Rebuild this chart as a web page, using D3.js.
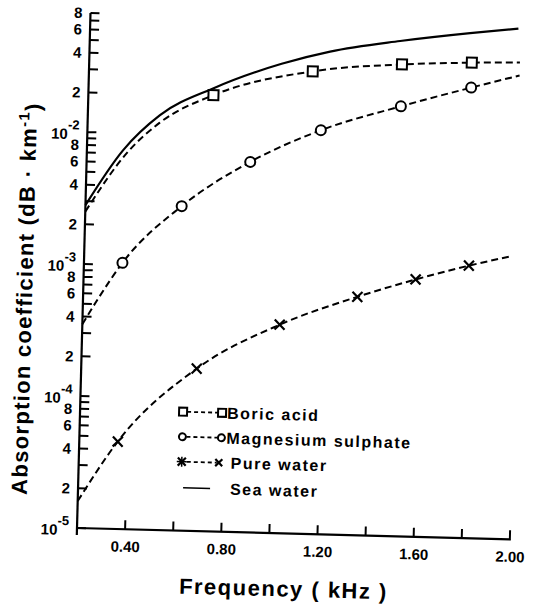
<!DOCTYPE html>
<html><head><meta charset="utf-8">
<script src="https://cdn.jsdelivr.net/npm/d3@7"></script>
<style>
body{margin:0;background:#fff}
text{font-family:"Liberation Sans",Arial,sans-serif;font-weight:bold;fill:#000}
</style>
</head><body>
<svg id="c" width="534" height="609"></svg>
<script>
// ---- data ----
const xMajorTicks = [0.4, 0.8, 1.2, 1.6, 2.0];
const xMajorLabels = ["0.40", "0.80", "1.20", "1.60", "2.00"];
const xMinorTicks = [0.6, 1.0, 1.4, 1.8];
const yDecades = [1e-5, 1e-4, 1e-3, 1e-2];
const yDecadeExps = ["-5", "-4", "-3", "-2"];
const yLabelledMantissas = [2, 4, 6, 8];
const yTopTick = 8e-2;

const seaFreq = [0.20, 0.35, 0.50, 0.72, 1.00, 1.20, 1.49, 1.78, 1.98];
const seaVal  = [2.8e-3, 7.4e-3, 1.39e-2, 2.28e-2, 3.6e-2, 4.55e-2, 5.65e-2, 6.7e-2, 7.4e-2];

const boricFreq = [0.20, 0.37, 0.50, 0.72, 1.13, 1.50, 1.79, 1.99];
const boricVal  = [2.5e-3, 7.2e-3, 1.22e-2, 2.02e-2, 3.2e-2, 3.76e-2, 4.0e-2, 4.1e-2];
const boricMarkFreq = [0.72, 1.13, 1.50, 1.79];
const boricMarkVal  = [2.02e-2, 3.2e-2, 3.76e-2, 4.0e-2];

const mgFreq = [0.20, 0.26, 0.36, 0.60, 0.88, 1.17, 1.50, 1.79, 1.99];
const mgVal  = [3.5e-4, 5.4e-4, 1.04e-3, 2.87e-3, 6.4e-3, 1.15e-2, 1.81e-2, 2.59e-2, 3.27e-2];
const mgMarkFreq = [0.36, 0.60, 0.88, 1.17, 1.50, 1.79];
const mgMarkVal  = [1.04e-3, 2.87e-3, 6.4e-3, 1.15e-2, 1.81e-2, 2.59e-2];

const pureFreq = [0.20, 0.36, 0.68, 1.02, 1.34, 1.58, 1.80, 1.98];
const pureVal  = [1.6e-5, 4.6e-5, 1.7e-4, 3.8e-4, 6.4e-4, 8.9e-4, 1.16e-3, 1.4e-3];
const pureMarkFreq = [0.36, 0.68, 1.02, 1.34, 1.58, 1.80];
const pureMarkVal  = [4.6e-5, 1.7e-4, 3.8e-4, 6.4e-4, 8.9e-4, 1.16e-3];

const legendLabels = ["Boric acid", "Magnesium sulphate", "Pure water", "Sea water"];

// ---- chart ----
const x = d3.scaleLinear().domain([0.2, 2.0]).range([77, 510]);
const y = d3.scaleLog().domain([1e-5, 1e-1]).range([528, 0]);

const svg = d3.select("#c");
const g = svg.append("g").attr("transform", "rotate(1.5,77,528)");

// y ticks
const yTicks = [];
yDecades.forEach(d => { for (let m = 1; m <= 9; m++) { const v = m * d; if (v <= yTopTick * 1.0001) yTicks.push(v); } });
const expOf = v => Math.floor(Math.log10(v) + 1e-9);
const mantOf = v => Math.round(v / Math.pow(10, expOf(v)));

const yAxis = d3.axisLeft(y).tickValues(yTicks).tickSize(0).tickPadding(8)
  .tickFormat(v => { const m = mantOf(v); return yLabelledMantissas.includes(m) ? String(m) : ""; });
const ya = g.append("g").attr("transform", "translate(77,0)").call(yAxis);
ya.select(".domain").remove();
ya.selectAll(".tick text").style("font-size", "15px").attr("fill", "#000");
ya.selectAll(".tick").each(function(v) {
  const i = yDecades.findIndex(d => Math.abs(d - v) / d < 1e-6);
  if (i < 0) return;
  const t = d3.select(this).select("text").text("").attr("dy", "0.45em");
  t.append("tspan").text("10").style("font-size", "15px");
  t.append("tspan").text(yDecadeExps[i]).attr("dy", "-0.75em").style("font-size", "13px");
});
const yTickPath = yTicks.map(d => `M77,${y(d)}H86`).join("");
g.append("path").attr("d", yTickPath).attr("stroke", "#000").attr("stroke-width", 2).attr("fill", "none");
g.append("line").attr("x1", 77).attr("x2", 77).attr("y1", y(1e-5) + 7).attr("y2", y(yTopTick))
  .attr("stroke", "#000").attr("stroke-width", 2.2);

// x ticks
const xAll = xMajorTicks.concat(xMinorTicks);
const xAxis = d3.axisBottom(x).tickValues(xAll).tickSize(0).tickPadding(12)
  .tickFormat(v => { const i = xMajorTicks.findIndex(t => Math.abs(t - v) < 1e-9); return i >= 0 ? xMajorLabels[i] : ""; });
const xa = g.append("g").attr("transform", "translate(0,528)").call(xAxis);
xa.select(".domain").remove();
xa.selectAll(".tick text").style("font-size", "15px").attr("fill", "#000");
const xTickPath = xAll.map(d => `M${x(d)},528V519`).join("");
g.append("path").attr("d", xTickPath).attr("stroke", "#000").attr("stroke-width", 2).attr("fill", "none");
g.append("line").attr("x1", 77).attr("x2", x(2.0) + 1).attr("y1", 528).attr("y2", 528)
  .attr("stroke", "#000").attr("stroke-width", 2.2);

// curves
const line = d3.line().x(d => x(d[0])).y(d => y(d[1])).curve(d3.curveMonotoneX);
const zip = (a, b) => a.map((v, i) => [v, b[i]]);
const dash = "7,4";
g.append("path").attr("d", line(zip(seaFreq, seaVal))).attr("fill", "none").attr("stroke", "#000").attr("stroke-width", 2.2);
g.append("path").attr("d", line(zip(boricFreq, boricVal))).attr("fill", "none").attr("stroke", "#000").attr("stroke-width", 2).attr("stroke-dasharray", dash);
g.append("path").attr("d", line(zip(mgFreq, mgVal))).attr("fill", "none").attr("stroke", "#000").attr("stroke-width", 2).attr("stroke-dasharray", dash);
g.append("path").attr("d", line(zip(pureFreq, pureVal))).attr("fill", "none").attr("stroke", "#000").attr("stroke-width", 2).attr("stroke-dasharray", dash);

// markers
function square(sel, cx, cy, s) {
  sel.append("rect").attr("x", cx - s / 2).attr("y", cy - s / 2).attr("width", s).attr("height", s)
    .attr("fill", "#fff").attr("stroke", "#000").attr("stroke-width", 2);
}
function circle(sel, cx, cy, r) {
  sel.append("circle").attr("cx", cx).attr("cy", cy).attr("r", r).attr("fill", "#fff").attr("stroke", "#000").attr("stroke-width", 2);
}
function cross(sel, cx, cy, s) {
  sel.append("path").attr("d", `M${cx - s},${cy - s}L${cx + s},${cy + s}M${cx - s},${cy + s}L${cx + s},${cy - s}`)
    .attr("stroke", "#000").attr("stroke-width", 2.2).attr("fill", "none");
}
boricMarkFreq.forEach((f, i) => square(g, x(f), y(boricMarkVal[i]), 10));
mgMarkFreq.forEach((f, i) => circle(g, x(f), y(mgMarkVal[i]), 5));
pureMarkFreq.forEach((f, i) => cross(g, x(f), y(pureMarkVal[i]), 5));

// legend
const lg = g.append("g");
const rows = [409, 434, 459, 485];
const lx0 = 180, lx1 = 219;
lg.append("line").attr("x1", lx0 + 4).attr("x2", lx1 - 4).attr("y1", rows[0]).attr("y2", rows[0]).attr("stroke", "#000").attr("stroke-width", 1.8).attr("stroke-dasharray", "4,3");
square(lg, lx0, rows[0], 8); square(lg, lx1, rows[0], 8);
lg.append("line").attr("x1", lx0 + 4).attr("x2", lx1 - 4).attr("y1", rows[1]).attr("y2", rows[1]).attr("stroke", "#000").attr("stroke-width", 1.8).attr("stroke-dasharray", "4,3");
circle(lg, lx0, rows[1], 3.5); circle(lg, lx1, rows[1], 3.5);
lg.append("line").attr("x1", lx0 + 5).attr("x2", lx1 - 4).attr("y1", rows[2]).attr("y2", rows[2]).attr("stroke", "#000").attr("stroke-width", 1.8).attr("stroke-dasharray", "4,3");
cross(lg, lx0, rows[2], 4);
lg.append("path").attr("d", `M${lx0 - 5},${rows[2]}L${lx0 + 5},${rows[2]}M${lx0},${rows[2] - 5}L${lx0},${rows[2] + 5}`).attr("stroke", "#000").attr("stroke-width", 1.5);
cross(lg, lx1 - 2, rows[2], 3.5);
lg.append("line").attr("x1", lx0 + 2).attr("x2", lx1 - 10).attr("y1", rows[3]).attr("y2", rows[3]).attr("stroke", "#000").attr("stroke-width", 1.6);
const textX = [224, 224, 229, 229];
legendLabels.forEach((t, i) => {
  lg.append("text").attr("x", textX[i]).attr("y", rows[i]).attr("dy", "0.36em").text(t)
    .style("font-size", "16px").style("letter-spacing", "1.5px");
});

// axis titles
g.append("text").attr("x", 285).attr("y", 591).attr("text-anchor", "middle").text("Frequency ( kHz )")
  .style("font-size", "22px").style("letter-spacing", "1.5px");
const yt = g.append("text").attr("transform", "translate(26,300) rotate(-90)").attr("text-anchor", "middle")
  .style("font-size", "22px").style("letter-spacing", "1.3px");
yt.append("tspan").text("Absorption coefficient (dB \u00b7 km");
yt.append("tspan").text("-1").attr("dy", "-0.5em").style("font-size", "15px");
yt.append("tspan").text(")").attr("dy", "0.5em");
</script>
</body></html>
